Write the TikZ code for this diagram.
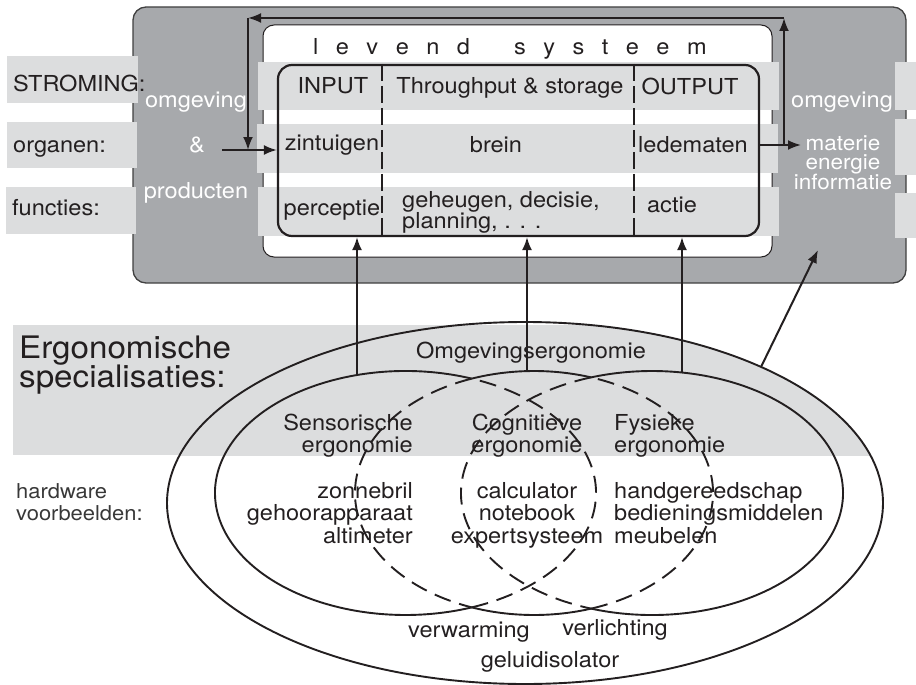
\documentclass[tikz,border=0pt]{standalone}
\usepackage{fontspec}
\setmainfont{TeX Gyre Heros}[FakeStretch=1.07]
\usetikzlibrary{arrows.meta}
\definecolor{outergray}{HTML}{A7A9AC}
\definecolor{bandgray}{HTML}{DCDDDE}
\definecolor{ink}{HTML}{231F20}
\newcommand\fmain{\fontsize{22}{23}\selectfont}
\newcommand\fsmall{\fontsize{21}{21}\selectfont}
\newcommand\fbig{\fontsize{31}{31}\selectfont}
\newcommand\fhw{\fontsize{20.5}{21}\selectfont}
\newcommand\lsp{\hspace{17.5pt}}
\begin{document}
\begin{tikzpicture}[x=1pt,y=-1pt,
  lbl/.style={inner sep=0pt, font=\fmain, text=ink},
  wlbl/.style={inner sep=0pt, font=\fmain, text=white},
  wsml/.style={inner sep=0pt, font=\fsmall, text=white},
  biglbl/.style={inner sep=0pt, font=\fbig, text=ink},
  hwlbl/.style={inner sep=0pt, font=\fhw, text=black!78},
  arr/.style={line width=2pt, draw=ink, -{Latex[length=13pt,width=10pt]}},
  ell/.style={line width=1.9pt, draw=ink},
  elld/.style={ell, dash pattern=on 17pt off 9pt},
  vdash/.style={line width=1.6pt, draw=ink, dash pattern=on 17pt off 5pt},
  procbox/.style={draw=ink, line width=2.2pt, rounded corners=14pt, minimum width=481pt, minimum height=171pt, inner sep=0pt}
]
\useasboundingbox (0,0) rectangle (916,685);

% ---------- top: system ----------
\filldraw[fill=outergray, draw=black!75, line width=1.3pt, rounded corners=13pt] (133,7) rectangle (906,283);
\filldraw[fill=white, draw=ink, line width=1pt, rounded corners=11pt] (263,25) rectangle (772,257);

% bands
\fill[bandgray] (7,56) rectangle (138,103);
\fill[bandgray] (7,122) rectangle (137,168);
\fill[bandgray] (6,187) rectangle (136,234);
\fill[bandgray] (258,62) rectangle (779,110);
\fill[bandgray] (257,124) rectangle (778,173);
\fill[bandgray] (258,187) rectangle (779,236);
\fill[bandgray] (895,62) rectangle (916,110);
\fill[bandgray] (895,119) rectangle (916,175);
\fill[bandgray] (895,193) rectangle (916,238);

\node[procbox] (proc) at (518.5,150.5) {};
\coordinate (d1) at (382,0);
\coordinate (d2) at (634,0);
\draw[vdash] (d1 |- proc.north) -- (d1 |- proc.south);
\draw[vdash] (d2 |- proc.north) -- (d2 |- proc.south);

\node[lbl, anchor=base west] (levend) at (313,55) {l\lsp e\lsp v\lsp e\lsp n\lsp d\hspace{44pt}s\lsp y\lsp s\lsp t\lsp e\lsp e\lsp m};

\node[lbl, anchor=base west] (stroming) at (13,92) {STROMING:};
\node[lbl, anchor=base west] (organen) at (13,152) {organen:};
\node[lbl, anchor=base west] (functies) at (12,215) {functies:};

\node[wlbl, anchor=base] (omgL) at (196,107) {omgeving};
\node[wlbl, anchor=base] (amp) at (197,152) {\&};
\node[wlbl, anchor=base] (prod) at (196,198) {producten};
\node[wlbl, anchor=base] (omgR) at (842,107) {omgeving};
\node[wsml, anchor=base] (mat) at (843,150) {materie};
\node[wsml, anchor=base] (ener) at (843,169) {energie};
\node[wsml, anchor=base] (info) at (843,189) {informatie};

\node[lbl, anchor=base] (input) at (333,94) {INPUT};
\node[lbl, anchor=base] (through) at (510,94) {Throughput \& storage};
\node[lbl, anchor=base] (output) at (690,95) {OUTPUT};
\node[lbl, anchor=base] (zint) at (332,150) {zintuigen};
\node[lbl, anchor=base] (brein) at (496,152) {brein};
\node[lbl, anchor=base] (ledem) at (693,152) {ledematen};
\node[lbl, anchor=base] (perc) at (332,215) {perceptie};
\node[lbl, anchor=base west] (geh) at (402,207) {geheugen, decisie,};
\node[lbl, anchor=base west] (plan) at (402,228) {planning, . . .};
\node[lbl, anchor=base] (actie) at (672,212) {actie};

% arrows in system
\coordinate (inS) at (222,150);
\draw[arr] (inS) -- (inS -| proc.west);
\coordinate (outE) at (801,145);
\draw[arr] (proc.east |- outE) -- (outE);
\coordinate (fbA) at (784,145);
\coordinate (fbB) at (784,18);
\coordinate (fbC) at (248,18);
\coordinate (fbD) at (248,150);
\draw[arr] (fbA) -- (fbB);
\draw[arr] (fbB) -- (fbC);
\draw[arr] (fbC) -- (fbD);

% ---------- bottom: ergonomics ----------
\coordinate (cO) at (525,503);
\fill[bandgray] (13,325) rectangle (525,455);
\begin{scope}
  \clip (13,325) rectangle (916,455);
  \fill[bandgray] (cO) ellipse [x radius=358pt, y radius=181pt];
\end{scope}
\draw[ell] (cO) ellipse [x radius=358pt, y radius=181pt];

\coordinate (cL) at (405.5,493);
\coordinate (cM) at (534,493);
\coordinate (cR) at (652,493);
% left ellipse
\draw[ell] ([shift={(69.7:190.5pt and 122pt)}]cL) arc[start angle=69.7, end angle=290.3, x radius=190.5pt, y radius=122pt];
\draw[elld] ([shift={(-69.7:190.5pt and 122pt)}]cL) arc[start angle=-69.7, end angle=69.7, x radius=190.5pt, y radius=122pt];
% middle ellipse
\draw[ell] ([shift={(71.4:179pt and 122pt)}]cM) arc[start angle=71.4, end angle=110.4, x radius=179pt, y radius=122pt];
\draw[ell] ([shift={(249.6:179pt and 122pt)}]cM) arc[start angle=249.6, end angle=288.6, x radius=179pt, y radius=122pt];
\draw[elld] ([shift={(110.4:179pt and 122pt)}]cM) arc[start angle=110.4, end angle=249.6, x radius=179pt, y radius=122pt];
\draw[elld] ([shift={(-71.4:179pt and 122pt)}]cM) arc[start angle=-71.4, end angle=71.4, x radius=179pt, y radius=122pt];
% right ellipse
\draw[ell] ([shift={(-108.6:191pt and 122pt)}]cR) arc[start angle=-108.6, end angle=108.6, x radius=191pt, y radius=122pt];
\draw[elld] ([shift={(108.6:191pt and 122pt)}]cR) arc[start angle=108.6, end angle=251.4, x radius=191pt, y radius=122pt];

% arrows up
\coordinate (tL) at (357,375);
\coordinate (tM) at (527,371);
\coordinate (tR) at (682,372);
\draw[arr] (tL) -- (tL |- proc.south);
\draw[arr] (tM) -- (tM |- proc.south);
\draw[arr] (tR) -- (tR |- proc.south);
\coordinate (dO) at (761,367);
\coordinate (dE) at (818,250);
\draw[arr] (dO) -- (dE);

% labels
\node[biglbl, anchor=base west] (ergo1) at (19,358) {Ergonomische};
\node[biglbl, anchor=base west] (ergo2) at (19,387) {specialisaties:};
\node[hwlbl, anchor=base west] (hw1) at (16,498) {hardware};
\node[hwlbl, anchor=base west] (hw2) at (16,520) {voorbeelden:};

\node[lbl, anchor=base] (omgerg) at (531,358) {Omgevingsergonomie};
\node[lbl, anchor=base east] (sens1) at (413,430) {Sensorische};
\node[lbl, anchor=base east] (sens2) at (413,452) {ergonomie};
\node[lbl, anchor=base] (cog1) at (527,430) {Cognitieve};
\node[lbl, anchor=base] (cog2) at (527,452) {ergonomie};
\node[lbl, anchor=base west] (fys1) at (614,430) {Fysieke};
\node[lbl, anchor=base west] (fys2) at (614,452) {ergonomie};

\node[lbl, anchor=base east] (zon) at (413,498) {zonnebril};
\node[lbl, anchor=base east] (gehoor) at (413,520) {gehoorapparaat};
\node[lbl, anchor=base east] (alti) at (413,543) {altimeter};
\node[lbl, anchor=base] (calc) at (527,498) {calculator};
\node[lbl, anchor=base] (note) at (527,520) {notebook};
\node[lbl, anchor=base] (expert) at (527,543) {expertsysteem};
\node[lbl, anchor=base west] (hand) at (614,498) {handgereedschap};
\node[lbl, anchor=base west] (bedien) at (614,520) {bedieningsmiddelen};
\node[lbl, anchor=base west] (meub) at (614,543) {meubelen};

\node[lbl, anchor=base] (verw) at (469,637) {verwarming};
\node[lbl, anchor=base] (verl) at (615,635) {verlichting};
\node[lbl, anchor=base] (geluid) at (550,667) {geluidisolator};
\end{tikzpicture}
\end{document}
